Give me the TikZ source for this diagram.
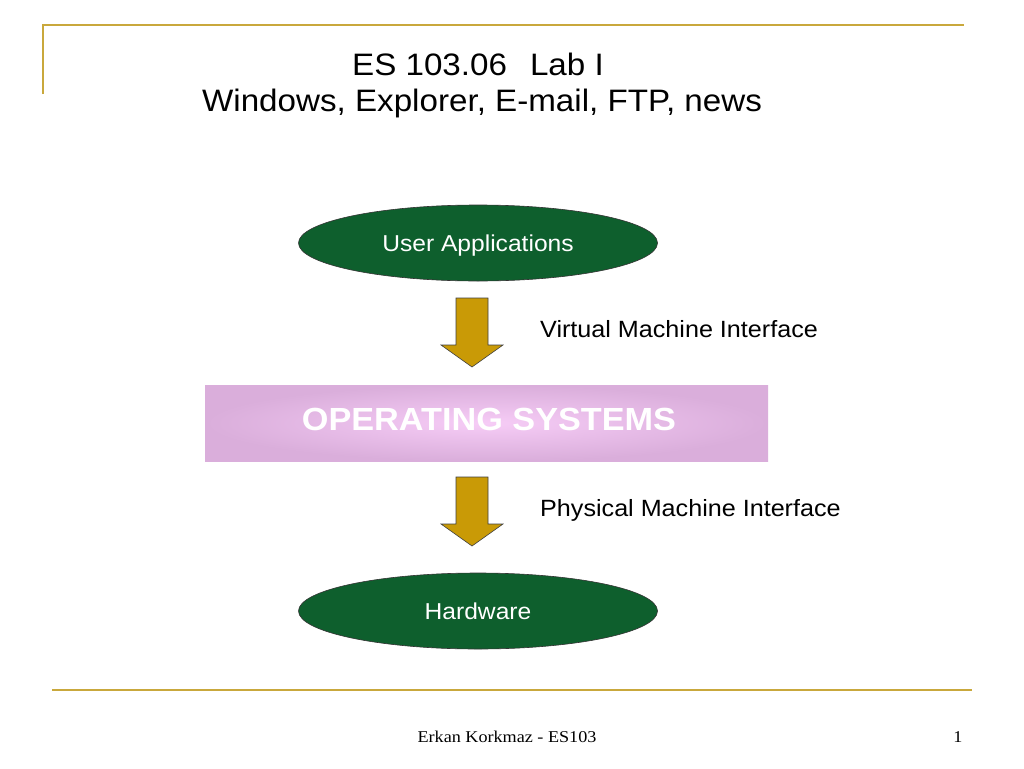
\documentclass[tikz,border=0pt]{standalone}
\usepackage{fontspec}
\setmainfont{Liberation Sans}[FakeStretch=1.07]
\newfontfamily\footfont{Liberation Serif}[FakeStretch=1.1]
\usetikzlibrary{shapes.geometric}
\definecolor{gold}{HTML}{C9A83C}
\definecolor{ellgreen}{HTML}{0E5F2D}
\definecolor{arrowgold}{HTML}{C99A06}
\definecolor{pinkout}{HTML}{DAAEDB}
\definecolor{pinkin}{HTML}{F6CCF6}
\tikzset{
  rule/.style={draw=gold,line width=2.6pt},
  ellnode/.style={ellipse,draw=black!80,line width=0.6pt,fill=ellgreen,minimum width=359pt,minimum height=76pt,inner sep=0pt,text=white,font=\fontsize{23}{27}\selectfont},
  arrowshape/.style={draw=black!75,line width=0.6pt,fill=arrowgold,line join=miter},
  label/.style={anchor=west,font=\fontsize{23.5}{28}\selectfont,inner sep=0pt},
  title/.style={font=\fontsize{31}{36}\selectfont,inner sep=0pt}
}
\newcommand{\ctext}[1]{\raisebox{-8.2pt}[0pt][0pt]{#1}}
\newcommand{\downarrowat}[2]{% #1 = x of centre, #2 = top y
  \path[arrowshape] (#1-16,#2) -- (#1+16,#2) -- (#1+16,#2+47) -- (#1+31,#2+47)
    -- (#1,#2+69) -- (#1-31,#2+47) -- (#1-16,#2+47) -- cycle;}
\begin{document}
\begin{tikzpicture}[x=1pt,y=-1pt]
\useasboundingbox (0,0) rectangle (1024,768);
\fill[white] (0,0) rectangle (1024,768);
% frame rules
\coordinate (tl) at (43,25);
\coordinate (tr) at (964,25);
\coordinate (lb) at (43,94);
\coordinate (bl) at (52,690);
\coordinate (br) at (972,690);
\draw[rule] (lb) -- (tl) -- (tr);
\draw[rule] (bl) -- (br);
% title
\node[title] (t1) at (478,64) {ES 103.06\hspace{23pt}Lab I};
\node[title] (t2) at (482,103) {Windows, Explorer, E-mail, FTP, news};
% nodes
\node[ellnode] (user) at (478,243) {\ctext{User Applications}};
\downarrowat{472}{298}
\node[label] (vmi) at (540,329) {Virtual Machine Interface};
\path[shading=radial,inner color=pinkin,outer color=pinkout] (205,385) rectangle (768,461);
\node[font=\fontsize{32}{38}\selectfont\bfseries,text=white,inner sep=0pt] (os) at (489,419) {OPERATING SYSTEMS};
\downarrowat{472}{477}
\node[label] (pmi) at (540,510) {Physical Machine Interface};
\node[ellnode] (hw) at (478,611) {\ctext{Hardware}};
% footer
\node[font=\footfont\fontsize{16.5}{20}\selectfont,inner sep=0pt] (foot) at (507,737) {Erkan Korkmaz - ES103};
\node[font=\footfont\fontsize{16.5}{20}\selectfont,inner sep=0pt] (num) at (958,737) {1};
\end{tikzpicture}
\end{document}
